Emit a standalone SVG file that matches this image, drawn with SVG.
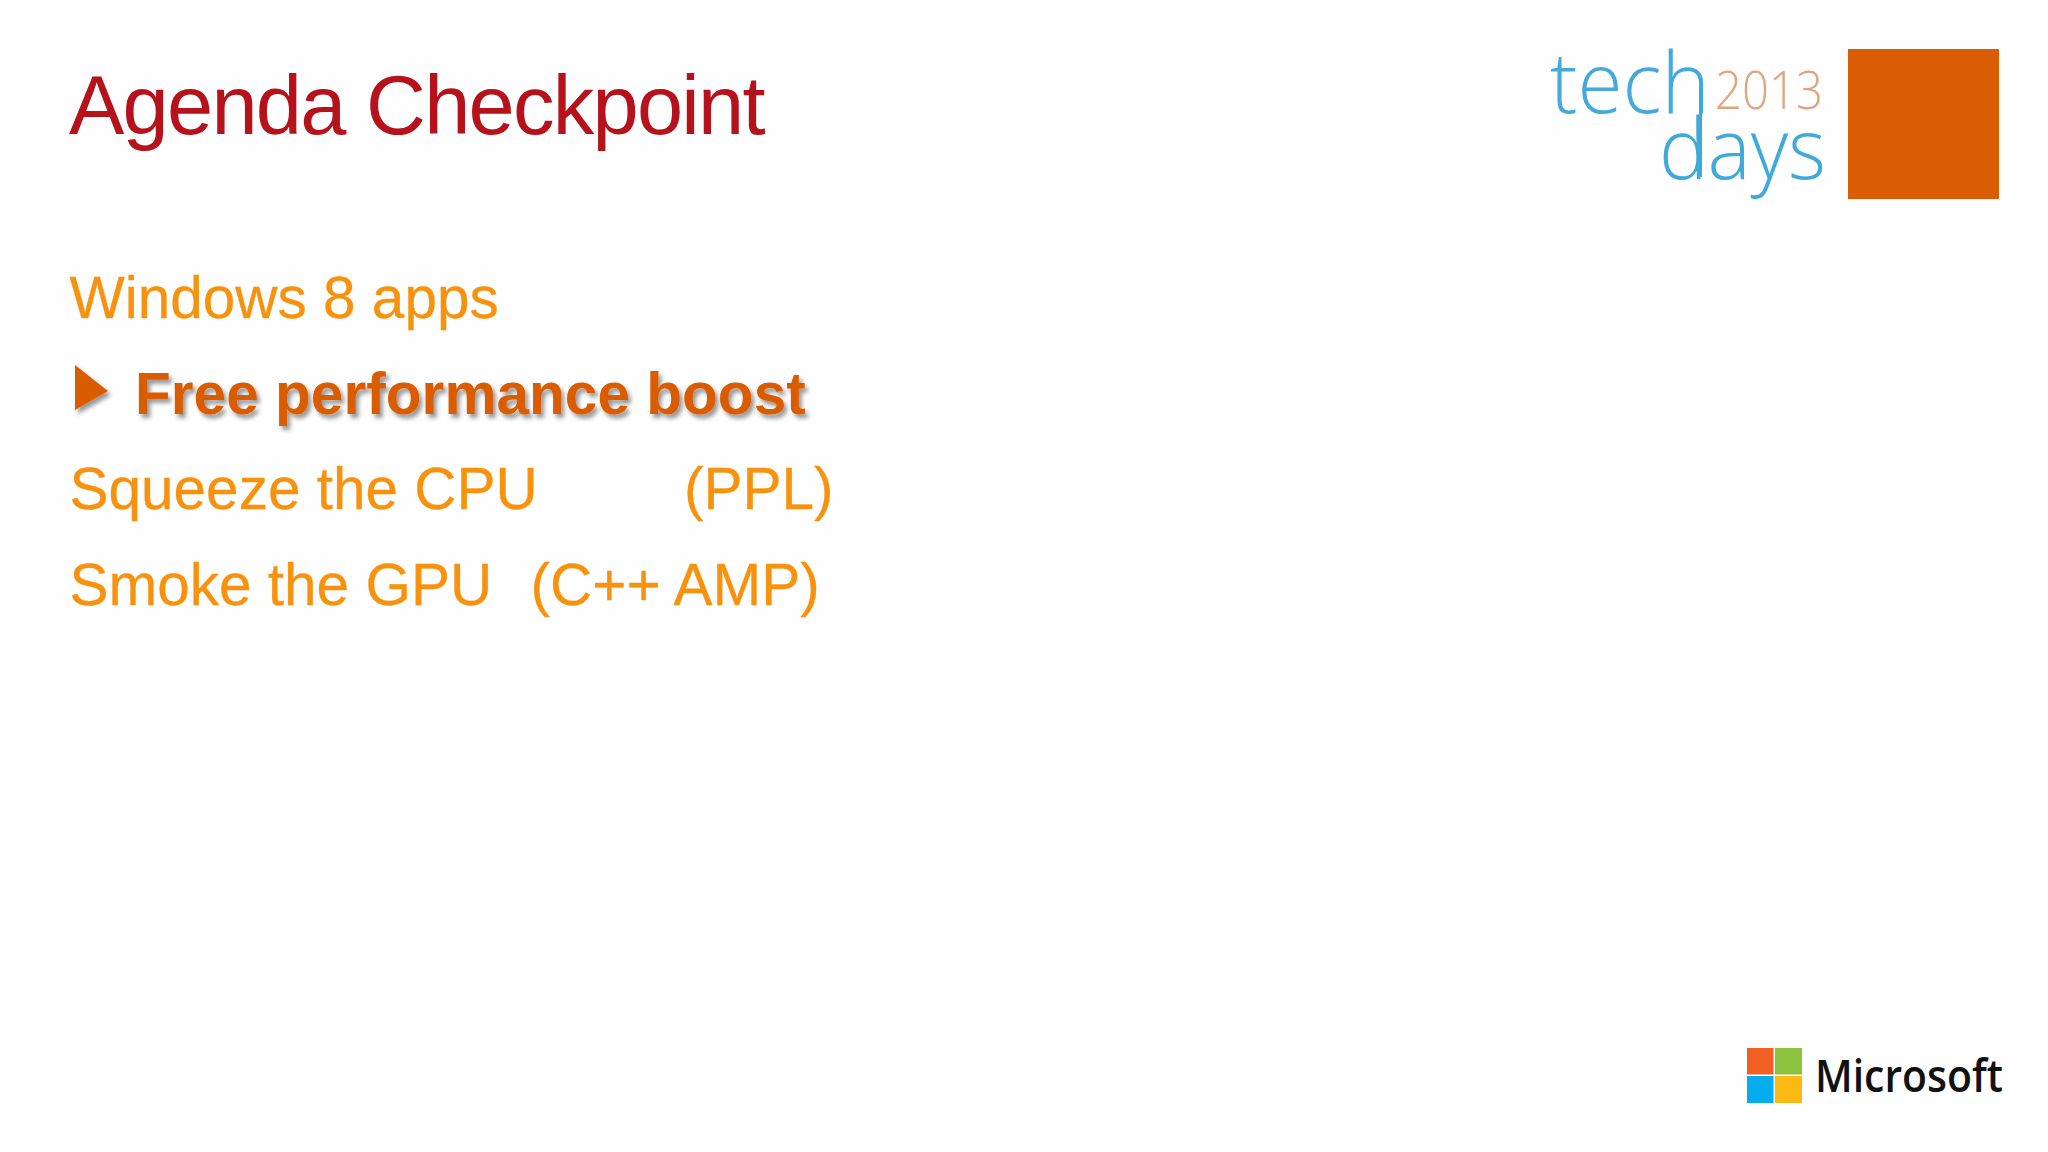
<svg xmlns="http://www.w3.org/2000/svg" width="2048" height="1152" viewBox="0 0 2048 1152">
<style>
.b{font-family:"Liberation Sans",Arial,sans-serif;font-size:58.5px;fill:#f7920f;stroke:#f7920f;stroke-width:.3}
.l{font-family:"Open Sans",sans-serif;font-weight:300}
</style>
<defs>
<filter id="s" x="-10%" y="-30%" width="120%" height="170%"><feDropShadow dx="3" dy="4" stdDeviation="2.2" flood-color="#000" flood-opacity="0.4"/></filter>
</defs>
<rect width="2048" height="1152" fill="#fefefe"/>
<g id="title"><text x="69" y="134" font-family="Liberation Sans,Arial,sans-serif" font-size="83" letter-spacing="-1.75" fill="#b5121b">Agenda Checkpoint</text></g>
<g id="agenda">
<text class="b" x="69.500" y="318">Windows 8 apps</text>
<g filter="url(#s)"><path d="M75 365L108 391L75 410Z" fill="#da5c05"/>
<text x="135" y="414" font-family="Liberation Sans,Arial,sans-serif" font-size="58.500" font-weight="700" letter-spacing=".05" fill="#da5c05">Free performance boost</text></g>
<text class="b" x="69.500" y="509">Squeeze the CPU</text>
<text class="b" x="684" y="509">(PPL)</text>
<text class="b" x="69.500" y="605">Smoke the GPU</text>
<text class="b" x="530.500" y="605">(C++ AMP)</text>
</g>
<g id="techdays">
<text class="l" x="1550" y="113" font-size="84" textLength="160" lengthAdjust="spacingAndGlyphs" fill="#45a9dc">tech</text>
<text class="l" x="1715" y="109" font-size="53" textLength="108" lengthAdjust="spacingAndGlyphs" fill="#dfa57e">2013</text>
<text class="l" x="1659" y="179" font-size="84" textLength="167" lengthAdjust="spacingAndGlyphs" fill="#3fa9d8">days</text>
<path d="M1700.500 85V177" fill="none" stroke="#3fa9d8" stroke-width="3"/>
<rect x="1848" y="49" width="151" height="150" fill="#da5c05"/>
</g>
<g id="microsoft">
<rect x="1747" y="1048" width="26.500" height="26.500" fill="#f25f22"/>
<rect x="1775" y="1048" width="27" height="26.500" fill="#8cc23f"/>
<rect x="1747" y="1076" width="26.500" height="27" fill="#05adee"/>
<rect x="1775" y="1076" width="27" height="27" fill="#fdb913"/>
<text x="1815" y="1092" font-family="Open Sans,sans-serif" font-weight="600" font-size="46" textLength="188" lengthAdjust="spacingAndGlyphs" fill="#111">Microsoft</text>
</g>
</svg>
